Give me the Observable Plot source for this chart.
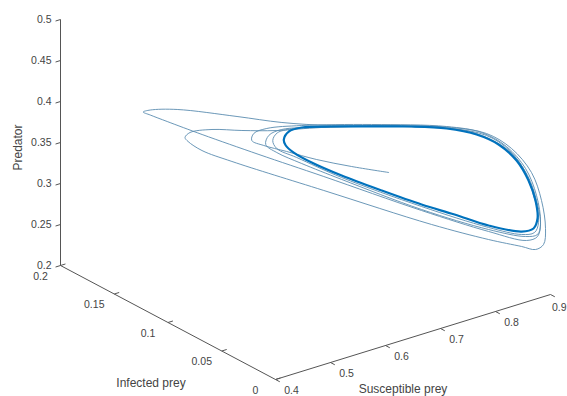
<!DOCTYPE html>
<html><head><meta charset="utf-8">
<script src="https://cdn.jsdelivr.net/npm/d3@7"></script>
<script src="https://cdn.jsdelivr.net/npm/@observablehq/plot@0.6"></script>
<style>
body{margin:0;background:#fff;}
#chart{width:567px;height:396px;}
</style></head><body><div id="chart"></div>
<script>
// ---- trajectory data (Susceptible prey S, Infected prey I, Predator P) ----
const transientS = [0.6644,0.6069,0.5531,0.5084,0.4764,0.4644,0.4739,0.4975,0.5553,0.6531,
0.7541,0.8020,0.8396,0.8683,0.8844,0.8897,0.8842,0.8662,0.8050,0.7047,
0.6051,0.5458,0.5011,0.4728,0.4596,0.4527,0.4615,0.4871,0.5353,0.5582,
0.6000,0.6919,0.7593,0.8092,0.8468,0.8772,0.8915,0.8968,0.8932,0.8806,
0.8571,0.8030,0.7131,0.5855,0.4869,0.4618,0.4521,0.4505,0.4557,0.4702,
0.4953,0.5295,0.5818,0.6919,0.7612,0.8092,0.8431,0.8700,0.8844,0.8897,
0.8842,0.8644,0.8050,0.7028,0.5868,0.5356,0.5059,0.4937,0.5031,0.5248,
0.5818,0.6919,0.7949,0.8539,0.8807,0.8880,0.8807,0.8591,0.8050,0.7008,
0.5848,0.5324,0.5098,0.5084,0.5175,0.5553];
const transientI = [0.03,0.035,0.04,0.045,0.05,0.055,0.058,0.058,0.055,0.04,
0.022,0.014,0.01,0.007,0.005,0.004,0.004,0.005,0.009,0.02,
0.06,0.09,0.12,0.138,0.147,0.15,0.148,0.136,0.105,0.075,
0.05,0.032,0.02,0.013,0.009,0.006,0.004,0.003,0.003,0.004,
0.005,0.008,0.015,0.05,0.085,0.1,0.108,0.11,0.108,0.095,
0.08,0.065,0.05,0.032,0.021,0.013,0.009,0.006,0.005,0.004,
0.004,0.005,0.009,0.019,0.034,0.045,0.053,0.057,0.059,0.058,
0.05,0.032,0.015,0.008,0.005,0.005,0.005,0.006,0.009,0.018,
0.033,0.048,0.055,0.058,0.058,0.055];
const transientP = [0.3768,0.3925,0.4087,0.4243,0.4348,0.4399,0.4444,0.4456,0.4393,0.4307,
0.4198,0.4081,0.3860,0.3554,0.3205,0.2872,0.2712,0.2694,0.2903,0.3290,
0.3633,0.3816,0.3944,0.4036,0.4080,0.4110,0.4130,0.4167,0.4197,0.4285,
0.4335,0.4270,0.4189,0.4061,0.3828,0.3493,0.3136,0.2791,0.2603,0.2561,
0.2640,0.2816,0.3137,0.3573,0.3888,0.3969,0.4044,0.4082,0.4146,0.4243,
0.4283,0.4316,0.4349,0.4258,0.4166,0.4037,0.3811,0.3472,0.3144,0.2847,
0.2737,0.2746,0.2927,0.3313,0.3816,0.4040,0.4180,0.4275,0.4352,0.4387,
0.4349,0.4258,0.4077,0.3699,0.3176,0.2868,0.2761,0.2775,0.2952,0.3361,
0.3851,0.4099,0.4207,0.4287,0.4365,0.4369];
// limit cycle
const cycleS = [0.5324,0.5375,0.5553,0.5961,0.6531,0.7062,0.7541,0.7949,0.8271,0.8539,0.8718,0.8825,
0.8862,0.8789,0.8591,0.8050,0.7510,0.7008,0.6418,0.5848,0.5479,0.5309,0.5281];
const cycleI = [0.06,0.058,0.055,0.048,0.04,0.03,0.022,0.015,0.011,0.008,0.006,0.005,
0.005,0.005,0.006,0.009,0.013,0.018,0.025,0.033,0.042,0.05,0.056];
const cycleP = [0.4235,0.4336,0.4369,0.4345,0.4283,0.4242,0.4174,0.4065,0.3904,0.3674,0.3407,0.3148,
0.2921,0.2814,0.2811,0.2976,0.3194,0.3385,0.3630,0.3875,0.4048,0.4149,0.4199];

// ---- axes ----
const sTicks = [0.4,0.5,0.6,0.7,0.8,0.9];
const iTicks = [0,0.05,0.1,0.15,0.2];
const pTicks = [0.2,0.25,0.3,0.35,0.4,0.45,0.5];
const sLabels = ["0.4","0.5","0.6","0.7","0.8","0.9"];
const iLabels = ["0","0.05","0.1","0.15","0.2"];
const pLabels = ["0.2","0.25","0.3","0.35","0.4","0.45","0.5"];
const sTitle = "Susceptible prey", iTitle = "Infected prey", pTitle = "Predator";
const sLim = [0.4,0.9], iLim = [0,0.2], pLim = [0.2,0.5];

// ---- 3-D view (linear projection of the normalised box) ----
const view = {sx:275, sy:85, ix:-215, iy:114, pz:246};
function proj(S,I,P){
  const s=(S-sLim[0])/(sLim[1]-sLim[0]), i=(I-iLim[0])/(iLim[1]-iLim[0]), p=(P-pLim[0])/(pLim[1]-pLim[0]);
  return {h: view.sx*s + view.ix*i, v: view.sy*s + view.iy*i + view.pz*p};
}
const transient = transientS.map((s,k)=>proj(s,transientI[k],transientP[k]));
const cycle = cycleS.map((s,k)=>proj(s,cycleI[k],cycleP[k]));
function seg(a,b){const A=proj(...a),B=proj(...b);return {x1:A.h,y1:A.v,x2:B.h,y2:B.v};}
const axes = [
  seg([sLim[0],iLim[0],pLim[0]],[sLim[1],iLim[0],pLim[0]]),
  seg([sLim[0],iLim[0],pLim[0]],[sLim[0],iLim[1],pLim[0]]),
  seg([sLim[0],iLim[1],pLim[0]],[sLim[0],iLim[1],pLim[1]])
];
const tl = 0.009, tli = 0.004;
const ticks = [
  ...pTicks.map(p=>seg([sLim[0],iLim[1],p],[sLim[0]-tl,iLim[1],p])),
  ...iTicks.map(i=>seg([sLim[0],i,pLim[0]],[sLim[0]+tl,i,pLim[0]])),
  ...sTicks.map(s=>seg([s,iLim[0],pLim[0]],[s,iLim[0]-tli,pLim[0]]))
];
const pLab = pTicks.map((p,k)=>({...proj(sLim[0],iLim[1],p),t:pLabels[k]}));
const iLab = iTicks.map((i,k)=>({...proj(sLim[0],i,pLim[0]),t:iLabels[k]}));
const sLab = sTicks.map((s,k)=>({...proj(s,iLim[0],pLim[0]),t:sLabels[k]}));
const pT = proj(sLim[0],iLim[1],0.35), iT = proj(sLim[0],0.1,pLim[0]), sT = proj(0.65,iLim[0],pLim[0]);

const txt = "#444";
const chart = Plot.plot({
  width:567, height:396,
  marginTop:0, marginRight:0, marginBottom:0, marginLeft:0,
  x:{domain:[-275,292], axis:null},
  y:{domain:[-17,379], axis:null},
  style:{fontFamily:"'Liberation Sans', Arial, Helvetica, sans-serif", background:"#fff"},
  marks:[
    Plot.link(axes,{x1:"x1",y1:"y1",x2:"x2",y2:"y2",stroke:"#555",strokeWidth:1}),
    Plot.link(ticks,{x1:"x1",y1:"y1",x2:"x2",y2:"y2",stroke:"#555",strokeWidth:1}),
    Plot.text(pLab,{x:"h",y:"v",text:"t",dx:-9,dy:0,textAnchor:"end",fontSize:10.5,fill:txt}),
    Plot.text(iLab,{x:"h",y:"v",text:"t",dx:-20,dy:11,textAnchor:"middle",fontSize:10.5,fill:txt}),
    Plot.text(sLab.slice(0,-1),{x:"h",y:"v",text:"t",dx:16,dy:11,textAnchor:"middle",fontSize:10.5,fill:txt}),
    Plot.text(sLab.slice(-1),{x:"h",y:"v",text:"t",dx:16,dy:13,textAnchor:"end",fontSize:10.5,fill:txt}),
    Plot.text([pT],{x:"h",y:"v",text:()=>pTitle,dx:-42,dy:5,rotate:-90,fontSize:12,fill:txt}),
    Plot.text([iT],{x:"h",y:"v",text:()=>iTitle,dx:-17,dy:61,fontSize:12,fill:txt}),
    Plot.text([sT],{x:"h",y:"v",text:()=>sTitle,dx:-10,dy:52,fontSize:12,fill:txt}),
    Plot.line(transient,{x:"h",y:"v",curve:"catmull-rom",stroke:"#5b8db0",strokeWidth:1,strokeOpacity:0.9}),
    Plot.line(cycle,{x:"h",y:"v",curve:"catmull-rom-closed",stroke:"#0072BD",strokeWidth:2.2})
  ]
});
document.getElementById("chart").appendChild(chart);
</script></body></html>
